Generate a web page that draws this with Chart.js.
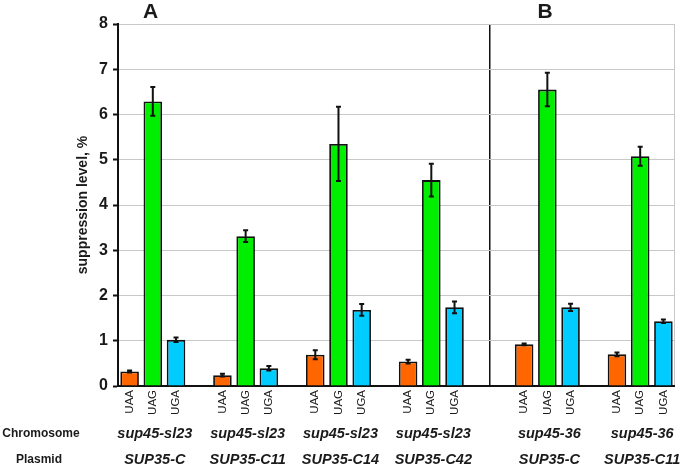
<!DOCTYPE html>
<html>
<head>
<meta charset="utf-8">
<script src="https://cdn.jsdelivr.net/npm/chart.js@4.4.1/dist/chart.umd.min.js"></script>
<style>
html,body{margin:0;padding:0;background:#fff;}
canvas{display:block;}
</style>
</head>
<body>
<canvas id="c" width="685" height="465"></canvas>
<script>
// ---- data ----
const codons = ['UAA', 'UAG', 'UGA'];
const panels = ['A', 'A', 'A', 'A', 'B', 'B'];
const chromosome = ['sup45-sl23', 'sup45-sl23', 'sup45-sl23', 'sup45-sl23', 'sup45-36', 'sup45-36'];
const plasmid = ['SUP35-C', 'SUP35-C11', 'SUP35-C14', 'SUP35-C42', 'SUP35-C', 'SUP35-C11'];
const uaa = [0.32, 0.24, 0.69, 0.54, 0.92, 0.70];
const uag = [6.29, 3.31, 5.35, 4.55, 6.55, 5.08];
const uga = [1.02, 0.39, 1.68, 1.74, 1.74, 1.43];
const uaaErr = [0.02, 0.03, 0.10, 0.04, 0.02, 0.04];
const uagErr = [0.32, 0.13, 0.82, 0.36, 0.37, 0.21];
const ugaErr = [0.05, 0.05, 0.13, 0.13, 0.08, 0.04];
const yTicks = [0, 1, 2, 3, 4, 5, 6, 7, 8];
const yTitle = 'suppression level, %';
const rowTitles = ['Chromosome', 'Plasmid'];

const seriesVals = [uaa, uag, uga];
const seriesErr = [uaaErr, uagErr, ugaErr];
const colors = ['#FF6600', '#00EE00', '#00CCFF'];

// build category slots
const labels = [];
const groupStart = [];
const panelStart = {};
let dividerIndex = -1;
panels.forEach((p, g) => {
  if (g > 0) labels.push('');
  if (g > 0 && p !== panels[g - 1]) { dividerIndex = labels.length; labels.push(''); }
  if (!(p in panelStart)) panelStart[p] = labels.length;
  groupStart.push(labels.length);
  codons.forEach(c => labels.push(c));
});

const datasets = codons.map((c, ci) => {
  const data = labels.map(() => null);
  const errs = labels.map(() => null);
  groupStart.forEach((s, g) => { data[s + ci] = seriesVals[ci][g]; errs[s + ci] = seriesErr[ci][g]; });
  return {
    label: c, data, errs,
    backgroundColor: colors[ci],
    borderColor: '#111',
    borderWidth: 1.8,
    borderSkipped: 'start',
    barPercentage: 0.8,
    categoryPercentage: 1.0,
    grouped: false
  };
});

const errorBars = {
  id: 'errorBars',
  afterDatasetsDraw(chart) {
    const ctx = chart.ctx, y = chart.scales.y;
    ctx.save();
    ctx.strokeStyle = '#111';
    ctx.lineWidth = 2;
    chart.data.datasets.forEach((ds, di) => {
      const meta = chart.getDatasetMeta(di);
      meta.data.forEach((el, i) => {
        const v = ds.data[i], e = ds.errs[i];
        if (v == null || e == null) return;
        const x = el.x;
        const y1 = y.getPixelForValue(v + e), y2 = y.getPixelForValue(v - e);
        ctx.beginPath();
        ctx.moveTo(x, y1); ctx.lineTo(x, y2);
        ctx.moveTo(x - 2.5, y1); ctx.lineTo(x + 2.5, y1);
        ctx.moveTo(x - 2.5, y2); ctx.lineTo(x + 2.5, y2);
        ctx.stroke();
      });
    });
    ctx.restore();
  }
};

const textLabels = {
  id: 'textLabels',
  afterDraw(chart) {
    const ctx = chart.ctx, x = chart.scales.x;
    ctx.save();
    ctx.fillStyle = '#1a1a1a';
    ctx.textAlign = 'center';
    ctx.textBaseline = 'middle';
    ctx.font = 'bold 21px "Liberation Sans", Arial, sans-serif';
    Object.keys(panelStart).forEach(p => {
      ctx.fillText(p, x.getPixelForValue(panelStart[p] + 0.9), 12);
    });
    ctx.font = 'bold 12px "Liberation Sans", Arial, sans-serif';
    ctx.fillText(rowTitles[0], 41, 434);
    ctx.fillText(rowTitles[1], 39, 460);
    ctx.font = 'italic bold 14.5px "Liberation Sans", Arial, sans-serif';
    groupStart.forEach((s, g) => {
      const cx = x.getPixelForValue(s + 1) + 2;
      ctx.fillText(chromosome[g], cx, 434);
      ctx.fillText(plasmid[g], cx, 460);
    });
    ctx.restore();
  }
};

new Chart(document.getElementById('c'), {
  type: 'bar',
  data: { labels, datasets },
  options: {
    responsive: false,
    animation: false,
    devicePixelRatio: 1,
    layout: { padding: { left: 0, right: 10, top: 24, bottom: 0 } },
    plugins: { legend: { display: false }, tooltip: { enabled: false } },
    scales: {
      x: {
        offset: true,
        afterFit(s) { s.height = 79; },
        grid: {
          drawTicks: false,
          color: c => c.type === 'scale' ? '#c8c8c8' : (c.index === dividerIndex ? '#111' : 'rgba(0,0,0,0)'),
          lineWidth: c => c.type === 'scale' ? 1 : (c.index === dividerIndex ? 1.5 : 0)
        },
        border: { color: '#111', width: 2 },
        ticks: {
          autoSkip: false,
          minRotation: 90, maxRotation: 90,
          padding: 4,
          color: '#1a1a1a',
          font: { family: '"Liberation Sans", Arial, sans-serif', size: 11.5 }
        }
      },
      y: {
        min: yTicks[0], max: yTicks[yTicks.length - 1],
        afterFit(s) { s.width = 118; },
        afterBuildTicks(s) { s.ticks = yTicks.map(v => ({ value: v })); },
        grid: { color: '#c8c8c8', lineWidth: 1, tickColor: '#111', tickLength: 5, tickWidth: 2 },
        border: { color: '#111', width: 2 },
        ticks: {
          padding: 5,
          color: '#1a1a1a',
          font: { family: '"Liberation Sans", Arial, sans-serif', size: 16, weight: 'bold' }
        },
        title: {
          display: true, text: yTitle, color: '#1a1a1a', padding: { top: 75, bottom: 0 },
          font: { family: '"Liberation Sans", Arial, sans-serif', size: 14, weight: 'bold' }
        }
      }
    }
  },
  plugins: [errorBars, textLabels]
});
</script>
</body>
</html>
